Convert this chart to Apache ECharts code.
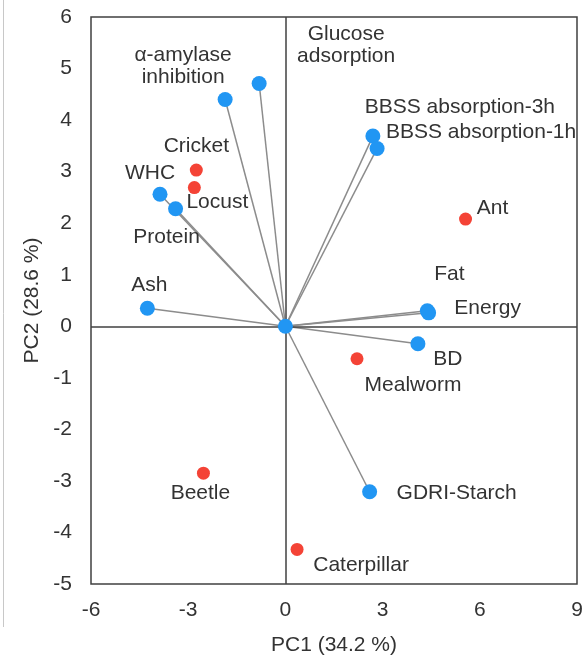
<!DOCTYPE html>
<html>
<head>
<meta charset="utf-8">
<script src="https://cdn.jsdelivr.net/npm/echarts@6/dist/echarts.min.js"></script>
<style>html,body{margin:0;padding:0;background:#fff}#c{width:588px;height:656px}</style>
</head>
<body>
<div id="c"></div>
<script>
// Variables (loadings) - blue
const varNames = ['α-amylase\ninhibition','Glucose\nadsorption','WHC','Protein','Ash','BBSS absorption-3h','BBSS absorption-1h','Fat','Energy','BD','GDRI-Starch'];
const varX = [-1.86, -0.81, -3.87, -3.39, -4.26, 2.70, 2.83, 4.38, 4.42, 4.09, 2.60];
const varY = [4.40, 4.71, 2.56, 2.28, 0.35, 3.69, 3.45, 0.30, 0.26, -0.34, -3.21];
// Samples (scores) - red
const sampleNames = ['Cricket','Locust','Ant','Mealworm','Beetle','Caterpillar'];
const sampleX = [-2.75, -2.81, 5.56, 2.21, -2.53, 0.36];
const sampleY = [3.03, 2.69, 2.08, -0.63, -2.85, -4.33];
// Axis ticks
const xTicks = [-6, -3, 0, 3, 6, 9];
const yTicks = [-5, -4, -3, -2, -1, 0, 1, 2, 3, 4, 5, 6];

// label placement (pixel offsets from point centre)
const labelOffsets = {
  'α-amylase\ninhibition': [-42, -33],
  'Glucose\nadsorption': [87, -38],
  'WHC': [-10, -21],
  'Protein': [-9, 28],
  'Ash': [2, -23],
  'BBSS absorption-3h': [87, -29],
  'BBSS absorption-1h': [104, -16],
  'Fat': [22, -37],
  'Energy': [59, -5],
  'BD': [30, 15],
  'GDRI-Starch': [87, 1],
  'Cricket': [0, -24],
  'Locust': [23, 15],
  'Ant': [27, -11],
  'Mealworm': [56, 26],
  'Beetle': [-3, 20],
  'Caterpillar': [64, 16]
};

const BLUE = '#2196F3', RED = '#F44336', TXT = '#333', AX = '#404040';
const FONT = 'Liberation Sans, Arial, sans-serif';
const FS = 21;

function mkLabel(name) {
  return {
    show: true, position: 'inside', offset: labelOffsets[name],
    formatter: name, color: TXT, fontSize: FS, fontFamily: FONT, lineHeight: 22,
    align: 'center', verticalAlign: 'middle'
  };
}

const series = [];
// vector lines
varNames.forEach((n, i) => {
  series.push({
    type: 'line', silent: true, symbol: 'none', z: 1,
    lineStyle: { color: '#8c8c8c', width: 1.5 },
    data: [[0, 0], [varX[i], varY[i]]]
  });
});
// zero lines
series.push({
  type: 'line', data: [], silent: true, z: 2,
  markLine: {
    silent: true, symbol: 'none', label: { show: false },
    lineStyle: { color: AX, width: 1.5, type: 'solid' },
    data: [{ xAxis: 0 }, { yAxis: 0 }]
  }
});
// blue points
series.push({
  type: 'scatter', symbolSize: 15, z: 5,
  itemStyle: { color: BLUE, opacity: 1 },
  data: varNames.map((n, i) => ({ value: [varX[i], varY[i]], label: mkLabel(n) })).concat([{ value: [0, 0] }])
});
// red points
series.push({
  type: 'scatter', symbolSize: 13, z: 5,
  itemStyle: { color: RED, opacity: 1 },
  data: sampleNames.map((n, i) => ({ value: [sampleX[i], sampleY[i]], label: mkLabel(n) }))
});

const chart = echarts.init(document.getElementById('c'), null, { renderer: 'canvas' });
chart.setOption({
  animation: false,
  backgroundColor: '#fff',
  grid: { left: 91, top: 17, width: 486, height: 567, containLabel: false, outerBoundsMode: 'none',
          show: true, borderColor: AX, borderWidth: 1.5, backgroundColor: 'transparent' },
  xAxis: {
    type: 'value', min: xTicks[0], max: xTicks[xTicks.length - 1], interval: 3,
    name: 'PC1 (34.2 %)', nameLocation: 'middle', nameGap: 51,
    nameTextStyle: { color: TXT, fontSize: FS, fontFamily: FONT },
    axisLine: { show: false }, axisTick: { show: false }, splitLine: { show: false },
    axisLabel: { color: TXT, fontSize: FS, fontFamily: FONT, margin: 16 }
  },
  yAxis: {
    type: 'value', min: yTicks[0], max: yTicks[yTicks.length - 1], interval: 1,
    name: 'PC2 (28.6 %)', nameLocation: 'middle', nameGap: 47,
    nameTextStyle: { color: TXT, fontSize: FS, fontFamily: FONT },
    axisLine: { show: false }, axisTick: { show: false }, splitLine: { show: false },
    axisLabel: { color: TXT, fontSize: FS, fontFamily: FONT, margin: 19 }
  },
  graphic: [{
    type: 'line', shape: { x1: 3.5, y1: 0, x2: 3.5, y2: 627 },
    style: { stroke: '#c8c8c8', lineWidth: 1 }, silent: true
  }],
  series: series
});
</script>
</body>
</html>
